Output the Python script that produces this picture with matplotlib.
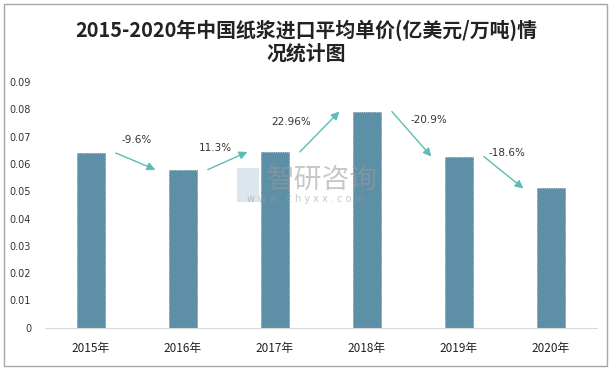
import matplotlib.pyplot as plt
from matplotlib.patches import Rectangle

plt.rcParams['font.family'] = ['Noto Sans CJK SC', 'DejaVu Sans']

# data
years = ['2015年', '2016年', '2017年', '2018年', '2019年', '2020年']
price = [0.0640, 0.0579, 0.0644, 0.0792, 0.0627, 0.0510]
growth = ['-9.6%', '11.3%', '22.96%', '-20.9%', '-18.6%']
yticks = [0, 0.01, 0.02, 0.03, 0.04, 0.05, 0.06, 0.07, 0.08, 0.09]
ytick_labels = ['0', '0.01', '0.02', '0.03', '0.04', '0.05', '0.06', '0.07', '0.08', '0.09']

# where each growth label sits (x in categories, y in data units)
label_pos = [(0.50, 0.0687), (1.35, 0.0660), (2.18, 0.0752), (3.67, 0.0762), (4.52, 0.0640)]

bar_color = '#5d8fa7'
arrow_color = '#5bbdb5'

fig = plt.figure(figsize=(6.12, 3.70), dpi=100)
ax = fig.add_axes([0.0735, 0.1143, 0.902, 0.664])

x = list(range(len(years)))
ax.bar(x, price, width=0.31, color=bar_color, edgecolor='#4a7a90',
       linewidth=0.6, linestyle=':')

# growth arrows between neighbouring bars
for i in range(len(growth)):
    ax.annotate('', xy=(i + 0.70, price[i + 1]), xytext=(i + 0.27, price[i]),
                arrowprops=dict(arrowstyle='-|>', color=arrow_color, lw=1.0,
                                mutation_scale=12, shrinkA=0, shrinkB=0))
    lx, ly = label_pos[i]
    ax.text(lx, ly, growth[i], ha='center', va='center', fontsize=7.5,
            color='#333333', family=['DejaVu Sans'])

ax.set_xlim(-0.5, 5.5)
ax.set_ylim(0, 0.09)
ax.set_xticks(x)
ax.set_xticklabels(years, fontsize=8.5, color='#222222')
ax.set_yticks(yticks)
ax.set_yticklabels(ytick_labels, fontsize=7, color='#333333', family=['DejaVu Sans'])
ax.tick_params(axis='both', length=0)
ax.tick_params(axis='x', pad=10)
ax.tick_params(axis='y', pad=10)
for s in ['top', 'right', 'left']:
    ax.spines[s].set_visible(False)
ax.spines['bottom'].set_color('#d9d9d9')

# watermark
fig.patches.append(Rectangle((0.388, 0.455), 0.036, 0.09, transform=fig.transFigure,
                             facecolor='#b8cfe0', edgecolor='none', alpha=0.5))
fig.text(0.527, 0.515, '智研咨询', ha='center', va='center', fontsize=20,
         color='#9a9a9a', alpha=0.55)
fig.text(0.5, 0.462, 'w w w . c h y x x . c o m', ha='center', va='center',
         fontsize=7, color='#9a9a9a', alpha=0.55, family=['DejaVu Sans'])

# title
fig.text(0.5, 0.918, '2015-2020年中国纸浆进口平均单价(亿美元/万吨)情',
         ha='center', va='center', fontsize=14.3, fontweight='bold', color='#222222')
fig.text(0.5, 0.857, '况统计图', ha='center', va='center', fontsize=14.3,
         fontweight='bold', color='#222222')

# outer frame
fig.patches.append(Rectangle((0.007, 0.012), 0.985, 0.976, transform=fig.transFigure,
                             fill=False, edgecolor='#a6a6a6', linewidth=1.0))

fig.savefig('out.png', dpi=100)
